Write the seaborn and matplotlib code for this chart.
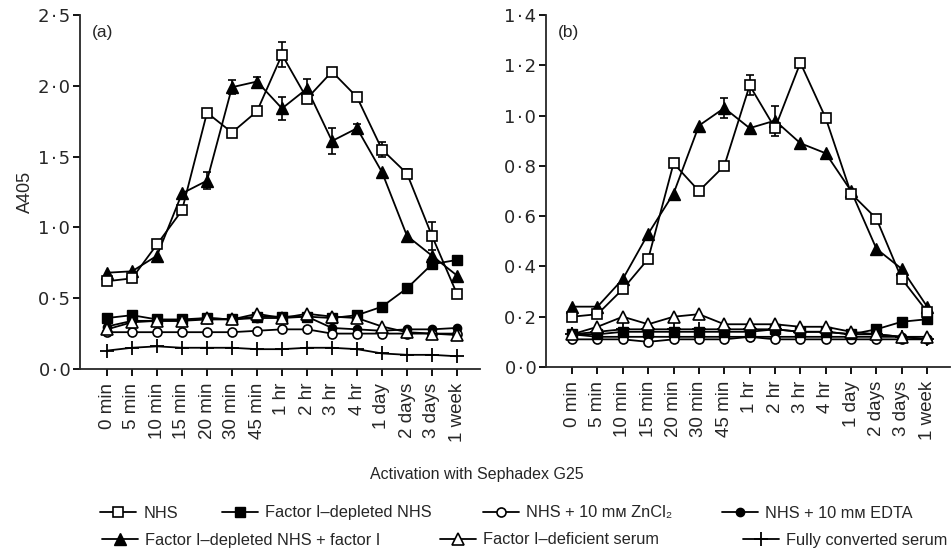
import numpy as np
import pandas as pd
import matplotlib
matplotlib.use("Agg")
import matplotlib.pyplot as plt
import seaborn as sns

# ---------------- data ----------------
categories = ['0 min', '5 min', '10 min', '15 min', '20 min', '30 min', '45 min',
              '1 hr', '2 hr', '3 hr', '4 hr', '1 day', '2 days', '3 days', '1 week']

series_labels = ['NHS', 'Factor I–depleted NHS', 'NHS + 10 mᴍ ZnCl₂', 'NHS + 10 mᴍ EDTA',
                 'Factor I–depleted NHS + factor I', 'Factor I–deficient serum',
                 'Fully converted serum']

# panel (a)
nhs_a = [0.62, 0.64, 0.88, 1.12, 1.81, 1.67, 1.82, 2.22, 1.91, 2.10, 1.92, 1.55, 1.38, 0.94, 0.53]
nhs_a_err = [0, 0, 0, 0, 0, 0, 0, 0.09, 0, 0, 0, 0.05, 0.03, 0.10, 0]
fid_a = [0.36, 0.38, 0.35, 0.35, 0.36, 0.35, 0.37, 0.37, 0.37, 0.36, 0.38, 0.44, 0.57, 0.74, 0.77]
zn_a = [0.26, 0.26, 0.26, 0.26, 0.26, 0.26, 0.27, 0.28, 0.28, 0.25, 0.25, 0.25, 0.25, 0.25, 0.25]
edta_a = [0.30, 0.34, 0.34, 0.34, 0.35, 0.35, 0.36, 0.36, 0.37, 0.29, 0.28, 0.27, 0.28, 0.28, 0.29]
fidfi_a = [0.68, 0.69, 0.80, 1.24, 1.33, 1.99, 2.03, 1.84, 1.98, 1.61, 1.70, 1.39, 0.94, 0.80, 0.66]
fidfi_a_err = [0, 0, 0, 0, 0.06, 0.05, 0.03, 0.08, 0.07, 0.09, 0.03, 0, 0, 0, 0]
def_a = [0.28, 0.33, 0.34, 0.34, 0.36, 0.35, 0.39, 0.36, 0.39, 0.37, 0.36, 0.30, 0.26, 0.25, 0.24]
full_a = [0.13, 0.15, 0.16, 0.15, 0.15, 0.15, 0.14, 0.14, 0.15, 0.15, 0.14, 0.11, 0.10, 0.10, 0.09]

# panel (b)
nhs_b = [0.20, 0.21, 0.31, 0.43, 0.81, 0.70, 0.80, 1.12, 0.95, 1.21, 0.99, 0.69, 0.59, 0.35, 0.22]
nhs_b_err = [0, 0, 0, 0, 0, 0, 0, 0.04, 0, 0, 0, 0, 0, 0, 0]
fid_b = [0.13, 0.13, 0.14, 0.14, 0.14, 0.14, 0.14, 0.14, 0.15, 0.14, 0.14, 0.13, 0.15, 0.18, 0.19]
zn_b = [0.11, 0.11, 0.11, 0.10, 0.11, 0.11, 0.11, 0.12, 0.11, 0.11, 0.11, 0.11, 0.11, 0.11, 0.11]
edta_b = [0.13, 0.12, 0.12, 0.12, 0.12, 0.12, 0.12, 0.12, 0.12, 0.12, 0.12, 0.12, 0.12, 0.12, 0.11]
fidfi_b = [0.24, 0.24, 0.35, 0.53, 0.69, 0.96, 1.03, 0.95, 0.98, 0.89, 0.85, 0.70, 0.47, 0.39, 0.24]
fidfi_b_err = [0, 0, 0, 0, 0, 0, 0.04, 0, 0.06, 0, 0, 0, 0, 0, 0]
def_b = [0.13, 0.16, 0.20, 0.17, 0.20, 0.21, 0.17, 0.17, 0.17, 0.16, 0.16, 0.14, 0.13, 0.12, 0.12]
full_b = [0.13, 0.14, 0.15, 0.15, 0.15, 0.15, 0.15, 0.15, 0.15, 0.14, 0.14, 0.13, 0.13, 0.12, 0.11]

yticks_a = [0.0, 0.5, 1.0, 1.5, 2.0, 2.5]
yticklabels_a = ['0\u200a·\u200a0', '0\u200a·\u200a5', '1\u200a·\u200a0',
                 '1\u200a·\u200a5', '2\u200a·\u200a0', '2\u200a·\u200a5']
yticks_b = [0.0, 0.2, 0.4, 0.6, 0.8, 1.0, 1.2, 1.4]
yticklabels_b = ['0\u200a·\u200a0', '0\u200a·\u200a2', '0\u200a·\u200a4', '0\u200a·\u200a6',
                 '0\u200a·\u200a8', '1\u200a·\u200a0', '1\u200a·\u200a2', '1\u200a·\u200a4']

# ---------------- style ----------------
sns.set_style("ticks")
plt.rcParams['font.family'] = ['Liberation Sans', 'DejaVu Sans']
plt.rcParams['axes.linewidth'] = 1.3
plt.rcParams['xtick.major.width'] = 1.3
plt.rcParams['ytick.major.width'] = 1.3

styles = [
    dict(marker='s', markerfacecolor='white', markersize=7, markeredgewidth=1.2),
    dict(marker='s', markerfacecolor='black', markersize=6.5, markeredgewidth=1.0),
    dict(marker='o', markerfacecolor='white', markersize=6.5, markeredgewidth=1.2),
    dict(marker='o', markerfacecolor='black', markersize=6, markeredgewidth=1.0),
    dict(marker='^', markerfacecolor='black', markersize=8, markeredgewidth=1.0),
    dict(marker='^', markerfacecolor='white', markersize=8, markeredgewidth=1.2),
    dict(marker='+', markerfacecolor='black', markersize=10, markeredgewidth=1.3),
]
draw_order = [6, 3, 2, 1, 5, 4, 0]

fig = plt.figure(figsize=(9.51, 5.58), dpi=100)
ax_a = fig.add_axes([80 / 951, 1 - 369 / 558, 400 / 951, 354 / 558])
ax_b = fig.add_axes([546 / 951, 1 - 367 / 558, 404 / 951, 352 / 558])

x = np.arange(len(categories))

def draw_panel(ax, data, errs, yticks, yticklabels, ylim, xlim, tag):
    for i in draw_order:
        df = pd.DataFrame({'x': x, 'y': data[i]})
        sns.lineplot(data=df, x='x', y='y', ax=ax, color='black', linewidth=1.3,
                     markeredgecolor='black', label=series_labels[i], zorder=3 + draw_order.index(i),
                     **styles[i])
    for i, e in errs.items():
        e = np.asarray(e)
        m = e > 0
        ax.errorbar(x[m], np.asarray(data[i])[m], yerr=e[m], fmt='none', ecolor='black',
                    elinewidth=1.2, capsize=3, capthick=1.2, zorder=2)
    ax.set_xlim(*xlim)
    ax.set_ylim(*ylim)
    ax.set_xticks(x)
    ax.set_xticklabels(categories, rotation=90, fontsize=13.5)
    ax.set_yticks(yticks)
    ax.set_yticklabels(yticklabels, fontsize=13, family=['DejaVu Sans'])
    ax.tick_params(axis='both', direction='out', length=5, color='black')
    ax.tick_params(axis='x', pad=5)
    ax.tick_params(axis='y', pad=2)
    ax.set_xlabel('')
    ax.set_ylabel('')
    sns.despine(ax=ax)
    ax.text(0.03, 0.95, tag, transform=ax.transAxes, fontsize=12.5, va='center', ha='left')
    leg = ax.get_legend()
    if leg is not None:
        leg.remove()

data_a = [nhs_a, fid_a, zn_a, edta_a, fidfi_a, def_a, full_a]
data_b = [nhs_b, fid_b, zn_b, edta_b, fidfi_b, def_b, full_b]
draw_panel(ax_a, data_a, {0: nhs_a_err, 4: fidfi_a_err}, yticks_a, yticklabels_a,
           (0, 2.5), (-1.08, 14.92), '(a)')
draw_panel(ax_b, data_b, {0: nhs_b_err, 4: fidfi_b_err}, yticks_b, yticklabels_b,
           (0, 1.4), (-1.03, 14.9), '(b)')

ax_a.set_ylabel('A405', fontsize=13, labelpad=3)
fig.text(477 / 951, 1 - 474 / 558, 'Activation with Sephadex G25', ha='center', va='center',
         fontsize=11.5)

hmap = {}
for ln in ax_a.get_lines():
    lab = ln.get_label()
    if lab in series_labels:
        hmap[lab] = ln

# legend entries: (series index, handle left x in px, row y in px)
legend_slots = [(0, 100, 513), (1, 222, 513), (2, 483, 513), (3, 722, 513),
                (4, 102, 540), (5, 440, 540), (6, 743, 540)]
for i, px, py in legend_slots:
    lg = fig.legend([hmap[series_labels[i]]], [series_labels[i]], loc='center left',
                    bbox_to_anchor=(px / 951, 1 - py / 558), frameon=False, fontsize=11.8,
                    handlelength=2.2, handletextpad=0.45, borderpad=0, borderaxespad=0)

fig.savefig('out.png', dpi=100)
